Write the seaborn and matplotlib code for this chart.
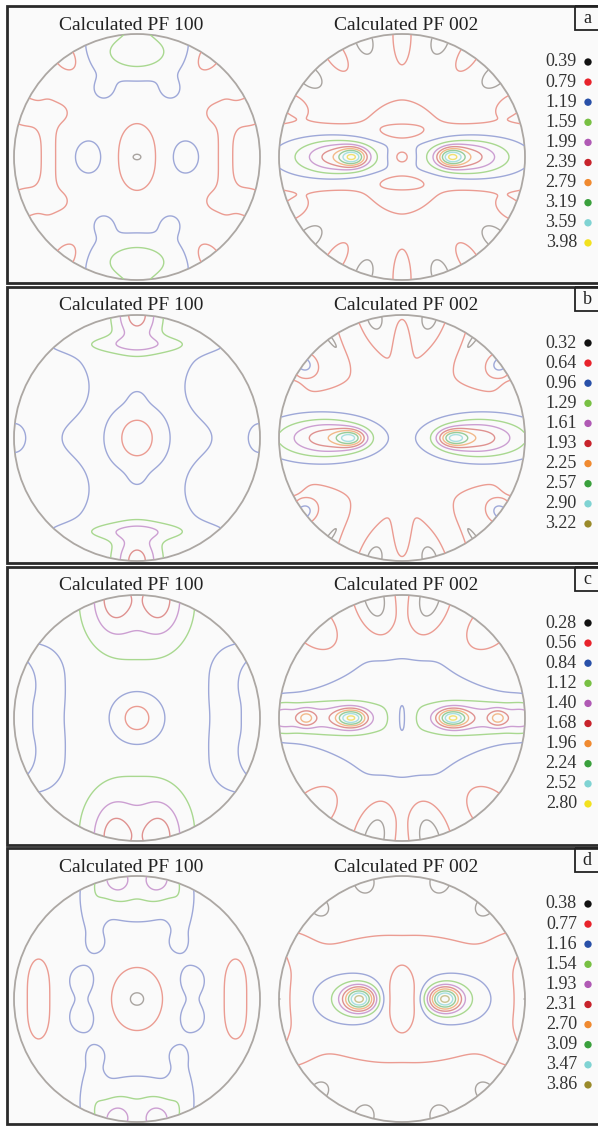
import numpy as np
import matplotlib
matplotlib.use("Agg")
import matplotlib.pyplot as plt
import seaborn as sns
from matplotlib.patches import Rectangle, Circle

# ---------------- data ----------------
panel_labels = ["a", "b", "c", "d"]
titles = ["Calculated PF 100", "Calculated PF 002"]

levels_a = [0.39, 0.79, 1.19, 1.59, 1.99, 2.39, 2.79, 3.19, 3.59, 3.98]
levels_b = [0.32, 0.64, 0.96, 1.29, 1.61, 1.93, 2.25, 2.57, 2.90, 3.22]
levels_c = [0.28, 0.56, 0.84, 1.12, 1.40, 1.68, 1.96, 2.24, 2.52, 2.80]
levels_d = [0.38, 0.77, 1.16, 1.54, 1.93, 2.31, 2.70, 3.09, 3.47, 3.86]

dot_colors_yellow = ["#111111", "#e8232b", "#2950a8", "#78c043", "#b05ab5",
                     "#c8232b", "#f08a30", "#3aa03c", "#7fd3d3", "#f2e11e"]
dot_colors_olive = dot_colors_yellow[:9] + ["#9a8a2a"]

# density components (mirrored in x and y)
# interior: (x, y, sigma_x, sigma_y, amplitude); rim: (angle deg, amplitude, sigma_tangential, sigma_radial)
a100_base = 1.0
a100_peaks = [(0, 0, 0.13, 0.22, -0.45), (0, 0, 0.03, 0.02, -0.30), (0.39, 0, 0.10, 0.12, 0.35),
              (0, 0.84, 0.25, 0.13, 0.60), (0, 0.92, 0.30, 0.18, 0.25), (0.27, 0.55, 0.07, 0.07, 0.30),
              (0.72, 0, 0.06, 0.33, -0.35), (0.62, 0.36, 0.07, 0.07, -0.25)]
a100_rim = [(22, -0.40, 0.10, 0.15), (125, -0.45, 0.08, 0.12), (0, 0.12, 0.10, 0.10), (90, 0.25, 0.08, 0.10)]

a002_base = 0.6
a002_peaks = [(0.40, 0, 0.075, 0.05, 1.75), (0.50, 0, 0.20, 0.10, 1.6), (0.85, 0, 0.30, 0.17, 0.7),
              (0, 0, 0.25, 0.33, 0.50), (0, 0.20, 0.14, 0.05, -0.45), (0, 0, 0.075, 0.06, -0.57)]
a002_rim = [(90, 0.45, 0.055, 0.17), (108, -0.45, 0.055, 0.10), (123, 0.45, 0.055, 0.12),
            (139, -0.45, 0.06, 0.10), (154, 0.40, 0.055, 0.10)]

b100_base = 0.85
b100_peaks = [(0, 0, 0.45, 5.0, 0.30), (0.60, 0.42, 0.15, 0.15, -0.25), (0, 0, 0.15, 0.18, -0.70),
              (0, 0.35, 0.07, 0.07, -0.12), (0, 1.0, 0.118, 0.15, 0.93), (0, 0.76, 0.32, 0.05, 0.45)]
b100_rim = [(0, 0.25, 0.08, 0.06)]

b002_base = 0.5
b002_peaks = [(0, 0, 0.58, 0.58, 0.25), (0.42, 0, 0.08, 0.045, 1.3), (0.55, 0, 0.22, 0.10, 1.0),
              (0.85, 0, 0.33, 0.16, 0.7), (0, 0.75, 0.04, 0.14, 0.25)]
b002_rim = [(103, -0.40, 0.06, 0.10), (126, -0.50, 0.015, 0.08), (143, 0.60, 0.05, 0.06),
            (157, 0.20, 0.06, 0.08), (115, 0.20, 0.08, 0.25)]

c100_base = 0.98
c100_peaks = [(0, 0, 0.14, 0.14, -0.54), (0.72, 0.25, 0.10, 0.20, -0.35),
              (0.19, 0.98, 0.12, 0.20, 0.58), (0, 0.9, 0.30, 0.30, 0.35)]
c100_rim = [(16, 0.15, 0.08, 0.12), (32, -0.20, 0.07, 0.15)]

c002_base = 0.65
c002_peaks = [(0, 0, 0.55, 0.45, 0.40), (0.41, 0, 0.085, 0.05, 1.5), (0.78, 0, 0.05, 0.045, 0.65),
              (0.70, 0, 0.30, 0.10, 0.70), (0, 0, 0.06, 0.15, -0.32)]
c002_rim = [(103, -0.55, 0.10, 0.22), (134, -0.30, 0.12, 0.20), (90, 0.10, 0.03, 0.12), (0, 0.40, 0.10, 0.10)]

d100_base = 0.95
d100_peaks = [(0, 0, 0.147, 0.18, -0.50), (0, 0, 0.04, 0.035, -0.25), (0.45, 0.15, 0.085, 0.10, 0.40),
              (0.80, 0.15, 0.07, 0.15, -0.35), (0.17, 1.0, 0.10, 0.12, 0.90), (0, 0.86, 0.27, 0.18, 0.48),
              (0.36, 0.75, 0.07, 0.25, 0.30), (0.33, 0.45, 0.06, 0.06, 0.25)]
d100_rim = []

d002_base = 0.55
d002_peaks = [(0, 0, 0.75, 0.44, 0.45), (0, 0, 0.11, 0.17, -0.65), (0.345, 0, 0.09, 0.07, 2.6),
              (0.48, 0, 0.22, 0.16, 0.6), (1.0, 0, 0.05, 0.35, -0.40)]
d002_rim = [(72, -0.35, 0.08, 0.10), (48, -0.35, 0.08, 0.10), (25, 0.25, 0.10, 0.15)]

panels = [
    (levels_a, dot_colors_yellow, (a100_base, a100_peaks, a100_rim), (a002_base, a002_peaks, a002_rim)),
    (levels_b, dot_colors_olive, (b100_base, b100_peaks, b100_rim), (b002_base, b002_peaks, b002_rim)),
    (levels_c, dot_colors_yellow, (c100_base, c100_peaks, c100_rim), (c002_base, c002_peaks, c002_rim)),
    (levels_d, dot_colors_olive, (d100_base, d100_peaks, d100_rim), (d002_base, d002_peaks, d002_rim)),
]

# ---------------- style ----------------
line_colors_yellow = ["#a9a4a0", "#eb9c92", "#9ea8d8", "#a9d890", "#cc9fd2",
                      "#df9290", "#f2b98a", "#98cc98", "#a8e0e0", "#f0e070"]
line_colors_olive = line_colors_yellow[:9] + ["#c9c290"]

sns.set_theme(style="white")
plt.rcParams["font.family"] = ["Liberation Serif", "DejaVu Serif"]

W, H = 598, 1126
fig = plt.figure(figsize=(W / 100, H / 100), dpi=100)
fig.patch.set_facecolor("white")
bg = fig.add_axes([0, 0, 1, 1])
bg.set_xlim(0, W)
bg.set_ylim(H, 0)
bg.axis("off")

panel_tops = [6, 287, 567, 848]
panel_bottoms = [283, 563, 845, 1124]
circle_x = [137, 402]
title_x = [131, 406]
R_PX = 123

n = 281
g = np.linspace(-1, 1, n)
X, Y = np.meshgrid(g, g)
RR = np.hypot(X, Y)


def density(base, peaks, rims):
    Z = np.full_like(X, base)
    for cx, cy, sx, sy, a in peaks:
        for mx in sorted({cx, -cx}):
            for my in sorted({cy, -cy}):
                Z += a * np.exp(-((X - mx) ** 2 / (2 * sx ** 2) + (Y - my) ** 2 / (2 * sy ** 2)))
    for ang, a, st, sr in rims:
        angs = {round((ang) % 360, 6), round((180 - ang) % 360, 6),
                round((-ang) % 360, 6), round((180 + ang) % 360, 6)}
        for t in angs:
            ux, uy = np.cos(np.radians(t)), np.sin(np.radians(t))
            dx, dy = X - ux, Y - uy
            rad = dx * ux + dy * uy
            tan = -dx * uy + dy * ux
            Z += a * np.exp(-(rad ** 2 / (2 * sr ** 2) + tan ** 2 / (2 * st ** 2)))
    Z[RR > 1.0] = np.nan
    return Z


for p, (levels, dcols, f100, f002) in enumerate(panels):
    top, bot = panel_tops[p], panel_bottoms[p]
    lcols = line_colors_olive if dcols is dot_colors_olive else line_colors_yellow
    bg.add_patch(Rectangle((7, top), 600, bot - top, facecolor="#fafafa",
                           edgecolor="#2b2b2b", lw=2.0, zorder=0))
    bg.add_patch(Rectangle((575, top), 30, 24, facecolor="none",
                           edgecolor="#222222", lw=1.3, zorder=3))
    bg.text(587, top + 12.5, panel_labels[p], ha="center", va="center",
            fontsize=13, color="#222222", zorder=4)
    for k, (cxp, fdef) in enumerate(zip(circle_x, (f100, f002))):
        bg.text(title_x[k], top + 19, titles[k], ha="center", va="center",
                fontsize=14, color="#222222")
        cyp = top + 151
        ext = R_PX * 1.02
        ax = fig.add_axes([(cxp - ext) / W, 1 - (cyp + ext) / H, 2 * ext / W, 2 * ext / H])
        ax.set_xlim(-1.02, 1.02)
        ax.set_ylim(-1.02, 1.02)
        ax.axis("off")
        ax.patch.set_alpha(0)
        Z = density(*fdef)
        ax.contour(X, Y, Z, levels=levels, colors=lcols, linewidths=1.0)
        ax.add_patch(Circle((0, 0), 1, fill=False, edgecolor="#aca7a3", lw=1.3))
    ys = [top + 56 + 20.1 * i for i in range(len(levels))]
    for v, yy in zip(levels, ys):
        bg.text(577, yy, f"{v:.2f}", ha="right", va="center", fontsize=13, color="#333333")
    sns.scatterplot(x=[588] * len(levels), y=ys, hue=[f"{v:.2f}" for v in levels],
                    palette=dict(zip([f"{v:.2f}" for v in levels], dcols)),
                    s=28, edgecolor="none", legend=False, ax=bg, zorder=5)

fig.savefig("out.png", dpi=100, facecolor="white")
